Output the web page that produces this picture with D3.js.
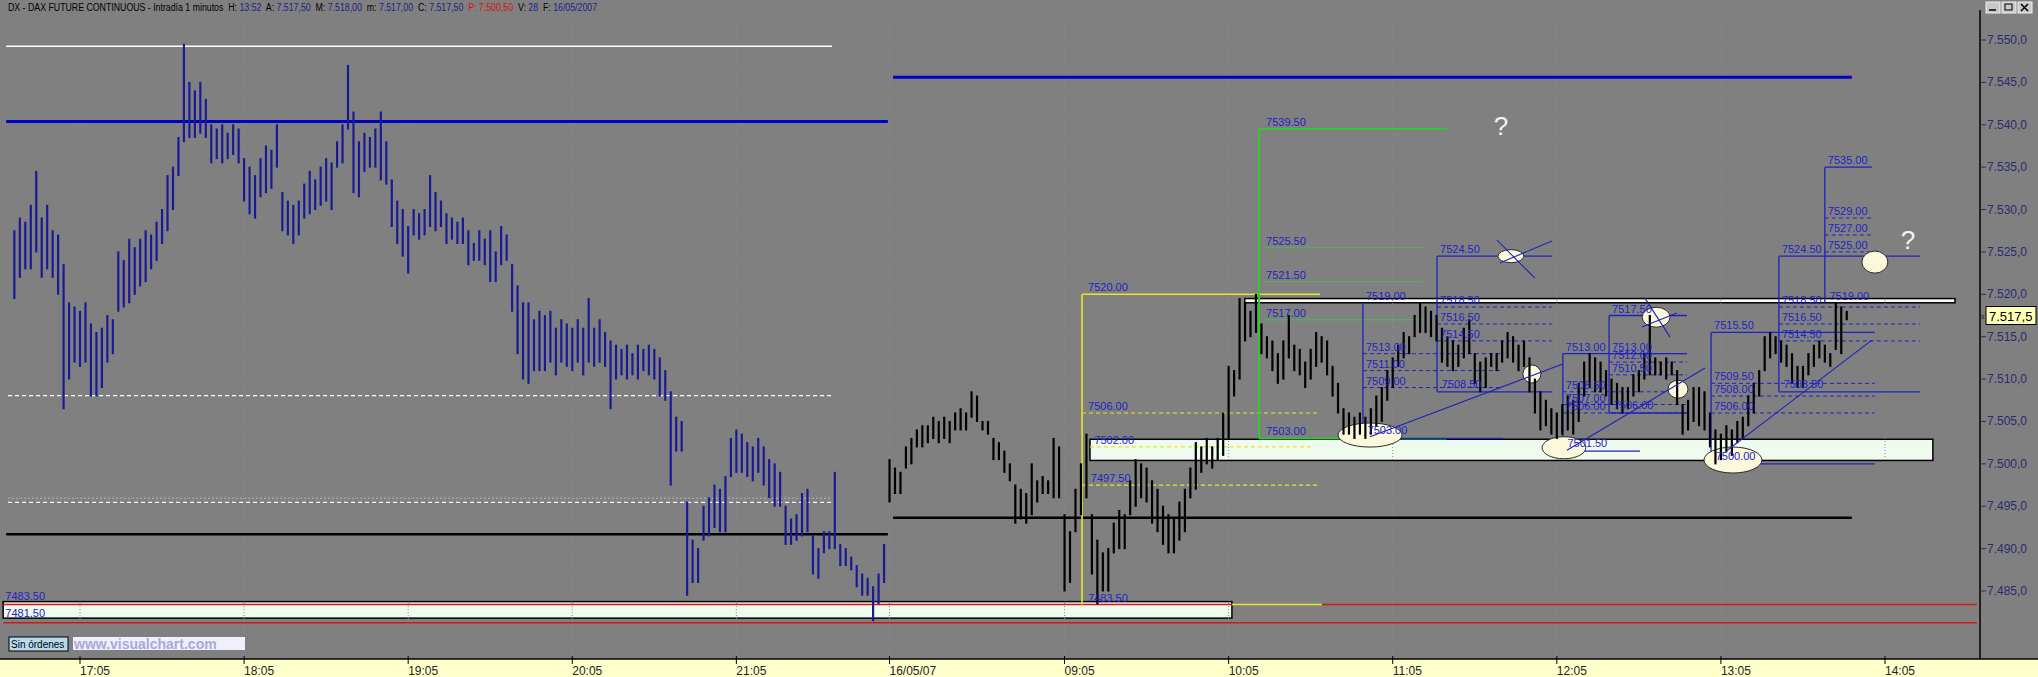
<!DOCTYPE html>
<html><head><meta charset="utf-8">
<script src="https://cdn.jsdelivr.net/npm/d3@7"></script>
<style>body{margin:0;background:#808080;overflow:hidden}svg{display:block}</style>
</head><body><svg id="c" width="2038" height="677"></svg>
<script>
// ---------- DATA ----------
// 2-minute bars, previous day 16:40-22:00 (index = minutes since 16:40)
const prevHigh=[7527.5,7529,7528.5,7530.5,7534.5,7529,7530.5,7527.5,7527,7523.5,
7519,7518.5,7518,7519,7516.5,7515.5,7516,7517.5,7517,7525,
7524,7526.5,7525.5,7526.5,7527.5,7527,7528.5,7530,7534,7535,
7538.5,7549.5,7545,7544,7545,7543,7540,7539.5,7540,7539,
7540,7539.5,7536,7535,7534,7536,7537.5,7537,7540,7532,
7531,7530.5,7531,7533,7534.5,7533.5,7535,7536,7535.5,7538,
7540,7547,7541.5,7538,7539,7538.5,7539.5,7541.5,7538,7533.5,
7531,7530,7528,7530,7529.5,7530,7534,7532,7531,7529.5,
7529,7528.5,7529,7527.5,7526,7527.5,7526.5,7527.5,7525,7528,
7527,7523.5,7521,7519,7519,7517,7518,7517.5,7518,7516,
7517,7516.5,7516,7517,7516,7519.5,7516,7517,7515.5,7514.5,
7514,7513.5,7514,7513,7514,7513.5,7514,7513.5,7512.5,7511,
7508.5,7505.5,7505,7495.5,7491,7490,7495,7496,7497.5,7497,
7498.5,7503,7504,7503.5,7502.5,7502,7503,7502,7500.5,7500,
7499,7495,7493.5,7494,7496.5,7497,7491.5,7490,7492,7492,
7499,7490.5,7490,7489,7488,7487,7486.5,7485.5,7487,7490.5];
const prevLow=[7519.5,7522,7523,7523,7525,7522,7523,7522,7520,7506.5,
7510,7512,7511.5,7512,7508,7508,7509,7512,7513,7518,
7518.5,7519,7520,7521,7521.5,7523,7524,7526,7527.5,7530,
7534,7538,7538.5,7538.5,7539,7538.5,7535.5,7536,7535.5,7536,
7536.5,7535.5,7531,7529.5,7529,7531.5,7532,7532.5,7535,7527.5,
7527,7526,7527,7529,7529.5,7530,7530.5,7531,7530,7535,
7535.5,7539.5,7532,7531.5,7534.5,7535,7535,7533.5,7533,7528,
7526,7524.5,7522.5,7527,7526.5,7527,7528,7527.5,7528,7526,
7526.5,7526,7526,7523.5,7524,7524,7523.5,7521.5,7521.5,7523.5,
7524,7518,7513,7510,7509.5,7511,7511,7511,7512,7510.5,
7512,7511.5,7511,7512,7510.5,7512,7511.5,7512,7511.5,7506.5,
7510,7510.5,7510,7510.5,7510,7511,7510.5,7510,7508,7507.5,
7497.5,7501.5,7501.5,7484.5,7486,7486,7491,7491.5,7492.5,7492,
7492,7498.5,7499,7499,7498.5,7498,7499,7497.5,7496,7495,
7495,7490.5,7490.5,7491,7491.5,7492,7487,7486.5,7489.5,7490,
7490,7488,7488,7487.5,7485.5,7484.5,7484.5,7481.5,7483.5,7486];
// 2-minute bars, 16/05/07 08:00-13:52
const todayHigh=[7500.5,7499.5,7499,7502,7503,7504,7504.5,7504.5,7505.5,7505,
7505.5,7505,7506,7506.5,7506,7508.5,7508,7505,7505,7503,
7502.5,7501.5,7500,7497.5,7497,7496.5,7500,7498,7498.5,7498,
7503,7502,7494,7492,7497,7500,7503.5,7494,7491,7489.5,
7490,7493,7494.5,7494,7498,7500.5,7500,7499.5,7498,7497,
7495,7494,7493.5,7495.5,7497,7499.5,7502.5,7502,7503,7502,
7503,7506,7511.5,7511,7519.5,7519,7518,7520,7516.5,7515,
7514.5,7513,7514.5,7517.5,7514,7513.5,7512,7513.5,7515.5,7515,
7514.5,7511.5,7509.5,7506.5,7506,7505.5,7506,7505.5,7506.5,7508,
7509,7511,7512.5,7514,7515.5,7515,7517.5,7519,7518.5,7518,
7517.5,7516,7515,7514.5,7514,7516,7517,7513,7512,7512.5,
7513,7513,7514.5,7515.5,7515,7514,7514.5,7512.5,7510,7508.5,
7507.5,7506.5,7506,7507,7508,7507.5,7509.5,7512,7513,7512.5,
7512,7511,7510,7509.5,7509,7509,7510.5,7511,7513,7517.5,
7512.5,7512,7512.5,7512,7511,7507,7507.5,7509,7509,7508.5,
7506,7504,7503.5,7504.5,7504,7505,7505.5,7508,7509.5,7511,
7515,7515.5,7515,7514.5,7514,7513,7511.5,7511.5,7513,7514,
7514.5,7514,7513,7519,7518.5,7518];
const todayLow=[7495.5,7496.5,7496.5,7499.5,7500,7502,7502,7502.5,7503,7502.5,
7503,7502.5,7504,7504,7504,7505.5,7505,7504,7503.5,7500.5,
7500.5,7499,7498,7493,7493.5,7493,7494,7495.5,7496.5,7496.5,
7496,7496,7485,7486,7492,7494,7496,7487,7483.5,7485,
7485,7489.5,7490,7490,7494,7495,7496,7495.5,7493,7492,
7490.5,7489.5,7489.5,7491,7492,7496,7497,7499,7500,7499.5,
7500.5,7501,7503,7508,7510,7514.5,7515,7515.5,7513,7512.5,
7511,7509.5,7510,7512.5,7511,7510.5,7509,7510,7511.5,7512,
7510.5,7508,7506,7503.5,7503.5,7503,7503.5,7503,7503.5,7504.5,
7505,7507.5,7509,7511.5,7512.5,7513,7515,7515.5,7515.5,7515,
7514.5,7512,7511.5,7511,7511.5,7512.5,7513,7509.5,7508.5,7509,
7511.5,7511,7512,7512.5,7512,7511,7511.5,7508.5,7506,7504,
7504.5,7503.5,7503,7503.5,7504,7503.5,7505,7508,7509,7508.5,
7508.5,7508,7507,7506.5,7506,7506.5,7508,7508.5,7510,7510.5,
7510.5,7510.5,7510,7510.5,7507,7503.5,7504,7505,7504.5,7504,
7502,7500,7500.5,7501.5,7501,7502.5,7503,7504.5,7506,7508,
7511,7512.5,7513,7512,7511.5,7509.5,7509,7509,7510.5,7511.5,
7512.5,7512,7511.5,7513.5,7513,7517];

const yTicks=[7550,7545,7540,7535,7530,7525,7520,7515,7510,7505,7500,7495,7490,7485];
const xTickLabels=["17:05","18:05","19:05","20:05","21:05","16/05/07","09:05","10:05","11:05","12:05","13:05","14:05"];
const xTickIdx=[25,85,145,205,265,321,385,445,505,565,625,685];
const lastPrice=7517.5;

// drawn objects, in (minute index, price)
const whiteLevels=[{a:-2,b:300,p:7549.25}];
const whiteDashLevels=[{a:-1.3,b:300,p:7508.05},{a:-1.3,b:300,p:7495.45}];
const greyDotLevels=[{a:-1.3,b:300,p:7495.95}];
const blueThick=[{a:-2,b:320.4,p:7540.4},{a:322.3,b:672.9,p:7545.6}];
const blackThick=[{a:-2,b:320.4,p:7491.7},{a:322.3,b:672.9,p:7493.65}];
const redLevels=[{a:-3,b:718.6,p:7481.25},{a:-3,b:446.2,p:7483.4},{a:479.1,b:718.6,p:7483.4}];
const paleBoxes=[{a:-3.1,b:446.2,top:7483.75,bot:7481.8},{a:394.3,b:702.5,top:7502.9,bot:7500.4}];
const whiteBoxes=[{a:450.9,b:710.6,top:7519.5,bot:7519.0}];
const yellowVert=[{x:391.4,top:7520,bot:7483.4}];
const yellowSolid=[{a:391.4,b:478.4,p:7520},{a:446.2,b:479.1,p:7483.4}];
const yellowDash=[{a:391.4,b:478.4,p:7506},{a:391.4,b:478.4,p:7497.5},{a:394.3,b:475.8,p:7502}];
const yellowLabels=[{x:392.5,p:7520,t:"7520.00"},{x:392.5,p:7506,t:"7506.00"},{x:393.5,p:7497.5,t:"7497.50"},{x:394.8,p:7502,t:"7502.00"},{x:392.5,p:7483.4,t:"7483.50"}];
const greenVert=[{x:456.1,top:7539.5,bot:7503}];
const greenMain=[{a:456.1,b:524.8,p:7539.5},{a:456.1,b:524.8,p:7503}];
const greenDim=[{a:457.9,b:516,p:7525.5},{a:457.9,b:516,p:7521.5},{a:457.9,b:516,p:7517}];
const greenLabels=[{x:457.6,p:7539.5,t:"7539.50"},{x:457.6,p:7525.5,t:"7525.50"},{x:457.6,p:7521.5,t:"7521.50"},{x:457.6,p:7517,t:"7517.00"},{x:457.6,p:7503,t:"7503.00"}];
const prevLabels=[{x:-3.4,p:7483.6,t:"7483.50"},{x:-3.4,p:7481.55,t:"7481.50"}];
// projection structures
const structs=[
 {x:494.1,top:7519,bot:7503,end:545.3,topLine:false,levels:[7513,7511,7509],botEnd:545.3,botLabel:"7503.00"},
 {x:521.2,top:7524.5,bot:7508.5,end:563.2,topLine:true,levels:[7518.5,7516.5,7514.5],botEnd:563.2,botLabel:"7508.50"},
 {x:567.2,top:7513,bot:7501.5,end:612.6,topLine:true,levels:[7508.5,7507,7506],botEnd:595.4,botLabel:"7501.50"},
 {x:584.1,top:7517.5,bot:7506,end:612.6,topLine:true,levels:[7513,7512,7510.5],botEnd:612.6,botLabel:"7506.00"},
 {x:621.4,top:7515.5,bot:7500,end:681.3,topLine:true,levels:[7509.5,7508,7506],botEnd:681.3,botLabel:"7500.00"},
 {x:646.2,top:7524.5,bot:7508.5,end:697.8,topLine:true,levels:[7518.5,7516.5,7514.5],botEnd:697.8,botLabel:"7508.50"},
 {x:663.0,top:7535,bot:7519,end:680.2,topLine:true,levels:[7529,7527,7525],botEnd:null,botLabel:"7519.00"}
];
const diagonals=[
 {a:496.7,pa:7503.2,b:566.9,pb:7511.75},{a:568.7,pa:7501.6,b:619.2,pb:7511.3},{a:626.5,pa:7501.4,b:680.2,pb:7514.6},
 {a:543.1,pa:7526.4,b:557.0,pb:7521.9},{a:544.2,pa:7523.7,b:563.2,pb:7526.3},
 {a:597.2,pa:7519.55,b:606.4,pb:7514.95},{a:596.1,pa:7516.15,b:608.9,pb:7517.8}
];
const ellipses=[
 {x:496.7,p:7503.4,rx:11.7,ry:1.42},{x:548.2,p:7524.5,rx:4.75,ry:0.77},{x:555.9,p:7510.6,rx:3.3,ry:1.06},
 {x:567.6,p:7501.9,rx:8.0,ry:1.3},{x:601.3,p:7517.3,rx:5.1,ry:1.18},{x:609.3,p:7508.8,rx:3.66,ry:1.06},
 {x:629.4,p:7500.45,rx:10.6,ry:1.53},{x:681.3,p:7523.8,rx:4.75,ry:1.3}
];
const questions=[{x:544.6,p:7539.9},{x:693.4,p:7526.4}];

// ---------- DRAW ----------
const svg=d3.select('#c');
const W=2038,H=677,axisX=1980,plotTop=15,plotBot=659;
const x=d3.scaleLinear().domain([25,685]).range([80,1885]);
const y=d3.scaleLinear().domain([7485,7550]).range([591,40]);
const fmt=v=>v.toFixed(2);
const BLUE="#2222c8";

svg.append('rect').attr('width',W).attr('height',H).attr('fill','#808080');
svg.append('defs').append('clipPath').attr('id','pc').append('rect')
  .attr('x',0).attr('y',plotTop).attr('width',axisX).attr('height',plotBot-plotTop);
const g=svg.append('g').attr('clip-path','url(#pc)');

function hl(sel,arr,color,w,dash){
  sel.selectAll(null).data(arr).join('line')
   .attr('x1',d=>x(d.a)).attr('x2',d=>x(d.b)).attr('y1',d=>y(d.p)).attr('y2',d=>y(d.p))
   .attr('stroke',color).attr('stroke-width',w).attr('stroke-dasharray',dash||null);
}
function vl(sel,arr,color,w){
  sel.selectAll(null).data(arr).join('line')
   .attr('x1',d=>x(d.x)).attr('x2',d=>x(d.x)).attr('y1',d=>y(d.top)).attr('y2',d=>y(d.bot))
   .attr('stroke',color).attr('stroke-width',w);
}
function labels(sel,arr){
  sel.selectAll(null).data(arr).join('text')
   .attr('x',d=>x(d.x)+3).attr('y',d=>y(d.p)-3).text(d=>d.t)
   .attr('fill',BLUE).attr('font-family','Liberation Sans, Arial').attr('font-size',11);
}

// boxes
g.selectAll(null).data(paleBoxes).join('rect')
 .attr('x',d=>x(d.a)).attr('y',d=>y(d.top)).attr('width',d=>x(d.b)-x(d.a)).attr('height',d=>y(d.bot)-y(d.top))
 .attr('fill','#eefbee').attr('stroke','#000').attr('stroke-width',1.5);
g.selectAll(null).data(whiteBoxes).join('rect')
 .attr('x',d=>x(d.a)).attr('y',d=>y(d.top)).attr('width',d=>x(d.b)-x(d.a)).attr('height',d=>y(d.bot)-y(d.top))
 .attr('fill','#fafafa').attr('stroke','#000').attr('stroke-width',1.5);
g.selectAll(null).data(xTickIdx).join('line')
 .attr('x1',d=>x(d)).attr('x2',d=>x(d)).attr('y1',plotTop).attr('y2',plotBot)
 .attr('stroke','#8c8c8c').attr('stroke-dasharray','1,2');

hl(g,whiteLevels,'#ffffff',1.5);
hl(g,greyDotLevels,'#b8b8b8',1,'2,2');
hl(g,whiteDashLevels,'#ffffff',1.2,'4,3');
hl(g,blueThick,'#0000c8',3);
hl(g,blackThick,'#000000',2.5);
hl(g,redLevels,'#d01818',1.5);
vl(g,yellowVert,'#e6e626',1.6);
hl(g,yellowSolid,'#e6e626',1.6);
hl(g,yellowDash,'#e6e626',1.2,'4,3');
hl(g,greenDim,'#5aaa5a',1.3);
vl(g,greenVert,'#33c833',2);
hl(g,greenMain,'#33c833',2);
structs.forEach(s=>{
  vl(g,[s],'#2020c0',1.3);
  if(s.topLine) hl(g,[{a:s.x,b:s.end,p:s.top}],'#2020c0',1.3);
  hl(g,s.levels.map(p=>({a:s.x,b:s.end,p})),'#2020c0',1,'4,3');
  if(s.botEnd) hl(g,[{a:s.x,b:s.botEnd,p:s.bot}],'#2020c0',1.3);
});
g.selectAll(null).data(ellipses).join('ellipse')
 .attr('cx',d=>x(d.x)).attr('cy',d=>y(d.p))
 .attr('rx',d=>x(d.x+d.rx)-x(d.x)).attr('ry',d=>y(d.p-d.ry)-y(d.p))
 .attr('fill','#fcf8dc').attr('stroke','#2a2a2a').attr('stroke-width',1);

// bars
const prevBars=prevHigh.map((h,i)=>({i:2*i+1,h,l:prevLow[i]}));
const todayBars=todayHigh.map((h,i)=>({i:321+2*i,h,l:todayLow[i]}));
function bars(data,color){
  const bg=g.append('g').attr('stroke',color);
  bg.selectAll(null).data(data).join('line')
   .attr('x1',d=>x(d.i)).attr('x2',d=>x(d.i)).attr('y1',d=>y(d.h)-0.5).attr('y2',d=>y(d.l)+0.5)
   .attr('stroke-width',2.2);
}
bars(prevBars,'#1a1a96');
bars(todayBars,'#000');

g.selectAll(null).data(diagonals).join('line')
 .attr('x1',d=>x(d.a)).attr('y1',d=>y(d.pa)).attr('x2',d=>x(d.b)).attr('y2',d=>y(d.pb))
 .attr('stroke','#2020c0').attr('stroke-width',1.1);

labels(g,yellowLabels);labels(g,greenLabels);labels(g,prevLabels);
structs.forEach(s=>{
  const arr=[{x:s.x,p:s.top,t:fmt(s.top)}].concat(s.levels.map(p=>({x:s.x,p,t:fmt(p)})));
  arr.push({x:s.x+0.6,p:s.bot+(s.botEnd?0.15:0),t:s.botLabel});
  labels(g,arr);
});
g.selectAll(null).data(questions).join('text')
 .attr('x',d=>x(d.x)).attr('y',d=>y(d.p)+9).attr('text-anchor','middle').text('?')
 .attr('fill','#f4f4f4').attr('font-family','Liberation Sans, Arial').attr('font-size',26);

// right axis
svg.append('line').attr('x1',axisX).attr('x2',axisX).attr('y1',10).attr('y2',plotBot).attr('stroke','#000').attr('stroke-width',1.5);
const yl=v=>{const s=v.toFixed(1).replace('.',',');return s[0]+'.'+s.slice(1);};
const ya=svg.append('g');
ya.selectAll(null).data(yTicks).join('line').attr('x1',axisX).attr('x2',axisX+6).attr('y1',d=>y(d)).attr('y2',d=>y(d)).attr('stroke','#2b2b70');
ya.selectAll(null).data(yTicks).join('text').attr('x',axisX+7).attr('y',d=>y(d)+4).text(yl)
 .attr('fill','#2b2b70').attr('font-family','Liberation Sans, Arial').attr('font-size',12);
const lp=svg.append('g');
lp.append('rect').attr('x',axisX+6).attr('y',y(lastPrice)-9).attr('width',50).attr('height',18).attr('fill','#ffffb4').attr('stroke','#000');
lp.append('text').attr('x',axisX+9).attr('y',y(lastPrice)+5).text(yl(lastPrice)).attr('font-family','Liberation Sans, Arial').attr('font-size',13).attr('fill','#000');
lp.append('text').attr('x',axisX+1).attr('y',y(lastPrice)+3).text('$').attr('font-size',7).attr('fill','#222');

// bottom axis
svg.append('rect').attr('x',0).attr('y',plotBot).attr('width',W).attr('height',H-plotBot).attr('fill','#ffffcc');
svg.append('line').attr('x1',0).attr('x2',W).attr('y1',plotBot).attr('y2',plotBot).attr('stroke','#000').attr('stroke-width',1.5);
const xa=svg.append('g');
xa.selectAll(null).data(xTickIdx).join('line').attr('x1',d=>x(d)).attr('x2',d=>x(d)).attr('y1',plotBot-3).attr('y2',plotBot+5).attr('stroke','#000');
xa.selectAll(null).data(xTickIdx).join('text').attr('x',d=>x(d)).attr('y',plotBot+16).text((d,i)=>xTickLabels[i])
 .attr('fill','#222').attr('font-family','Liberation Sans, Arial').attr('font-size',12);

svg.append('rect').attr('x',9).attr('y',637).attr('width',59).attr('height',14).attr('fill','#b8d8ee').attr('stroke','#000');
svg.append('text').attr('x',11).attr('y',648).text('Sin órdenes').attr('font-family','Liberation Sans, Arial').attr('font-size',10).attr('fill','#000');
svg.append('rect').attr('x',73).attr('y',637).attr('width',172).attr('height',13).attr('fill','#f0f0fa');
svg.append('text').attr('x',74).attr('y',649).text('www.visualchart.com').attr('font-family','Liberation Sans, Arial').attr('font-weight','bold').attr('font-size',14).attr('fill','#a8a8dc');

// title
const title=svg.append('text').attr('x',8).attr('y',11).attr('font-family','Liberation Sans, Arial').attr('font-size',11).attr('style','white-space:pre');
const parts=[["DX - DAX FUTURE CONTINUOUS - Intradía 1 minutos  H: ","#000"],["13:52","#1e1e8c"],["  A: ","#000"],["7.517,50","#1e1e8c"],
["  M: ","#000"],["7.518,00","#1e1e8c"],["  m: ","#000"],["7.517,00","#1e1e8c"],["  C: ","#000"],["7.517,50","#1e1e8c"],
["  P: ","#d01010"],["7.500,50","#d01010"],["  V: ","#000"],["28","#1e1e8c"],["  F: ","#000"],["16/05/2007","#1e1e8c"]];
parts.forEach(p=>title.append('tspan').text(p[0]).attr('fill',p[1]));
const tl=title.node().getComputedTextLength();
title.attr('transform',`translate(8,0) scale(${590/tl},1) translate(-8,0)`);
[0,1,2].forEach(i=>{
  svg.append('rect').attr('x',1986+i*16).attr('y',2).attr('width',14).attr('height',11).attr('fill','#c8c8c8').attr('stroke','#f0f0f0');
});
svg.append('line').attr('x1',1989).attr('x2',1996).attr('y1',10).attr('y2',10).attr('stroke','#000').attr('stroke-width',1.5);
svg.append('rect').attr('x',2005).attr('y',4).attr('width',7).attr('height',6).attr('fill','none').attr('stroke','#000');
svg.append('path').attr('d','M2021,4L2028,11M2028,4L2021,11').attr('stroke','#000').attr('stroke-width',1.5);
</script></body></html>
